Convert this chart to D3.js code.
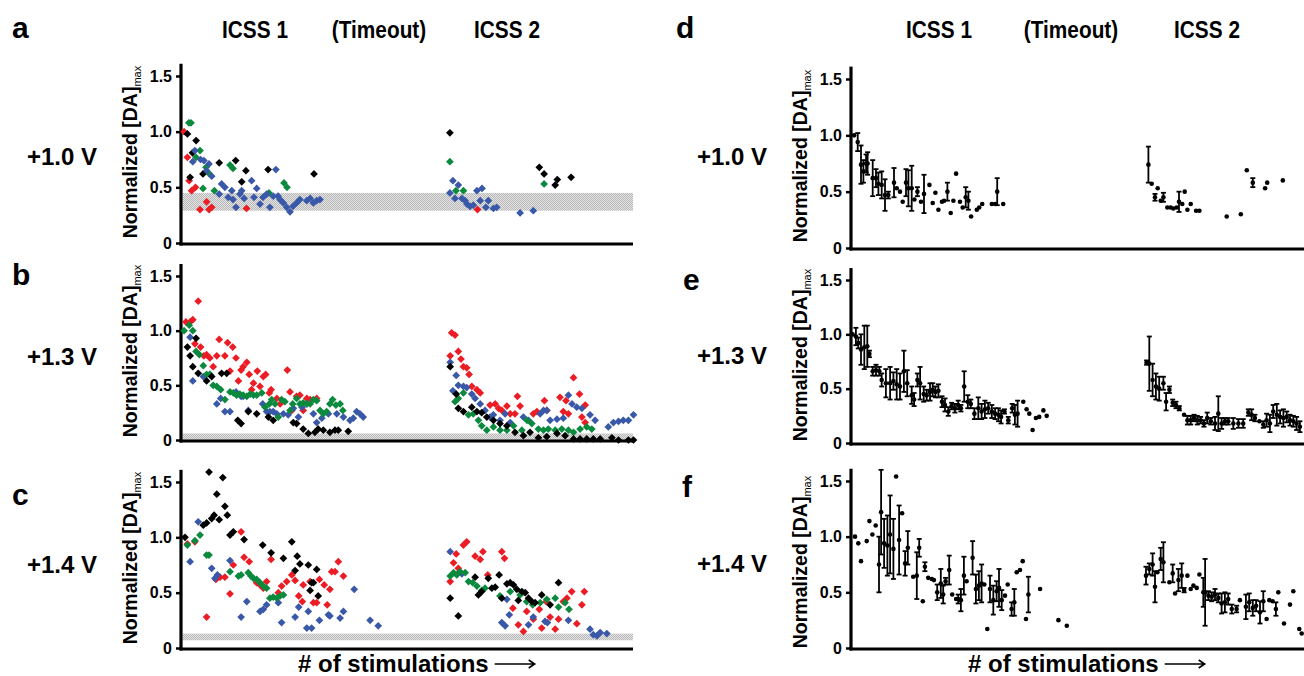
<!DOCTYPE html>
<html><head><meta charset="utf-8">
<script src="https://cdn.jsdelivr.net/npm/d3@7"></script>
<style>body{margin:0;background:#fff}svg{display:block}</style>
</head><body>
<script>
// ---------------- DATA ----------------
const headers = ["ICSS 1", "(Timeout)", "ICSS 2"];
const voltages = ["+1.0 V", "+1.3 V", "+1.4 V"];
const panelLetters = ["a", "b", "c", "d", "e", "f"];
const yTicks = [0, 0.5, 1.0, 1.5];
const yTickLabels = ["0", "0.5", "1.0", "1.5"];
const xLabel = "# of stimulations";
const bands = [[0.29, 0.45], [0, 0.06], [0.07, 0.13]];

// panel a : [stimulation #, normalized DA]
const aRed = [[0.7,1.0],[1.8,0.77],[2.4,0.56],[3.2,0.47],[4.5,0.50],[8.2,0.37],[6,0.30],[9,0.30],[9.9,0.32],[21.5,0.31],[98.5,0.30]];
const aGreen = [[2.3,1.08],[3,1.08],[4.7,0.77],[6,0.83],[7,0.49],[8,0.68],[8.8,0.63],[10.8,0.47],[16,0.70],[17,0.67],[29,0.45],[34,0.54],[35,0.50],[89.3,0.73],[91.3,0.47],[93.8,0.47],[120.7,0.53]];
const aBlack = [[1.8,0.98],[2.7,0.59],[3.5,0.81],[4.7,0.92],[7,0.62],[12.4,0.72],[17.9,0.74],[19.9,0.55],[21.3,0.65],[28.7,0.66],[44,0.62],[89.3,0.99],[119.1,0.68],[120.7,0.62],[124.4,0.52],[125.1,0.57],[129.7,0.59]];
const aBlue = [[4.3,0.83],[3.6,0.73],[6.2,0.75],[7.3,0.74],[9,0.71],[8.2,0.65],[9.9,0.60],[12.4,0.44],[13.2,0.53],[14.3,0.50],[15.4,0.41],[16.6,0.47],[17,0.39],[18,0.32],[19.3,0.44],[19.9,0.47],[20.7,0.40],[23.2,0.56],[24,0.41],[24.9,0.49],[26,0.35],[27,0.41],[28.2,0.44],[29.3,0.32],[30.4,0.42],[31.3,0.66],[32,0.42],[32.7,0.39],[33.8,0.36],[34.9,0.32],[36,0.28],[37,0.33],[38.2,0.36],[39.3,0.39],[41.6,0.38],[42.7,0.40],[43.8,0.36],[44.9,0.38],[46,0.39],
 [90.3,0.56],[92.1,0.52],[89.3,0.45],[91,0.40],[93.3,0.40],[94.4,0.38],[95,0.35],[96,0.33],[97.1,0.34],[98.3,0.47],[100,0.49],[99.4,0.38],[101.3,0.32],[102.1,0.38],[103.8,0.31],[104.9,0.32],[112.7,0.27],[117.1,0.29]];

// panel b
const bRed = [[1.3,1.08],[2.7,1.08],[3.6,1.10],[5.4,1.27],[4.3,0.88],[6.2,0.85],[7.3,0.77],[8.2,0.78],[9.3,0.75],[10.4,0.67],[11.6,0.77],[12.4,0.92],[14.3,0.77],[15.2,0.89],[16,0.63],[16.9,0.85],[18,0.75],[18.8,0.54],[19.7,0.64],[20.4,0.67],[21.6,0.71],[22.4,0.60],[23.2,0.46],[23.8,0.52],[25.1,0.63],[26,0.49],[27.1,0.58],[27.9,0.60],[29.1,0.43],[29.7,0.46],[31.6,0.38],[32.7,0.33],[35.1,0.64],[36,0.44],[36.6,0.27],[38.2,0.40],[39.3,0.41],[40.4,0.27],[41.6,0.38],[42.7,0.37],[44.9,0.38],
 [89.9,0.98],[91,0.96],[89.4,0.77],[92.1,0.81],[93,0.74],[93.8,0.67],[94.9,0.66],[95.7,0.60],[96.6,0.49],[98.3,0.46],[99.4,0.43],[102.7,0.32],[104.4,0.33],[105.5,0.29],[106.6,0.27],[108.3,0.31],[109.4,0.24],[111,0.24],[111.8,0.40],[112.7,0.31],[117.1,0.24],[118.3,0.26],[120.8,0.36],[121.6,0.27],[126,0.39],[127.1,0.26],[128,0.36],[128.8,0.24],[130.5,0.57],[132.5,0.42],[133.3,0.21],[134.4,0.32],[134.4,0.16]];
const bGreen = [[0.7,1.0],[2.4,1.05],[3.6,1.0],[4.7,0.81],[5.8,0.78],[7.1,0.68],[8.2,0.60],[9.3,0.60],[10.4,0.50],[11.6,0.49],[12.9,0.46],[14.3,0.37],[16,0.44],[17.1,0.43],[18.2,0.41],[19.3,0.42],[20.4,0.41],[21.6,0.40],[22.7,0.42],[23.8,0.41],[24.9,0.41],[26.6,0.43],[27.7,0.30],[29.1,0.33],[29.9,0.37],[31,0.33],[32.1,0.21],[33.2,0.37],[34.3,0.35],[36,0.27],[36.9,0.33],[38.2,0.38],[39.3,0.33],[40.4,0.34],[41.6,0.33],[42.7,0.33],[43.8,0.37],[44.9,0.36],[46,0.27],[47.1,0.24],[48.2,0.26],[49.3,0.33],[50.2,0.37],[51.3,0.32],[52.7,0.33],[53.6,0.27],
 [91,0.35],[92.1,0.38],[93.8,0.43],[95.5,0.23],[97.1,0.24],[98.8,0.18],[99.9,0.13],[101.6,0.09],[103.8,0.12],[106,0.09],[108.3,0.09],[110.5,0.13],[113.3,0.09],[115,0.18],[116.6,0.15],[118.8,0.10],[120.5,0.09],[122.1,0.10],[124.4,0.09],[126.6,0.10],[128.8,0.09],[130.5,0.07],[132.7,0.10],[134.9,0.12],[136.6,0.10]];
const bBlack = [[1.8,0.85],[2.7,0.77],[4.7,0.93],[3.6,0.67],[5.4,0.61],[8.2,0.54],[9.9,0.58],[13.2,0.61],[14.9,0.61],[18.6,0.18],[19.7,0.15],[22.1,0.26],[24.9,0.24],[28.8,0.21],[30.4,0.18],[37.1,0.16],[38.2,0.15],[40.4,0.10],[42.1,0.06],[44.3,0.07],[45.4,0.10],[47.1,0.09],[49.3,0.07],[51,0.09],[52.1,0.09],[55.4,0.08],
 [89.4,0.67],[91.4,0.42],[92.1,0.29],[93.8,0.26],[96.6,0.30],[98.3,0.26],[99.9,0.25],[101.6,0.21],[103.8,0.18],[106,0.15],[108.3,0.13],[111,0.07],[113.8,0.04],[116,0.07],[118.8,0.02],[121.6,0.03],[125,0.06],[127.7,0.04],[130.5,0.01],[132.7,0.01],[134.9,0.01],[137.1,0.01],[139.4,0.01],[143.3,0.02],[145.5,0],[148.8,0],[150.5,0]];
const bBlue = [[2.7,0.94],[3.6,0.54],[7.1,0.58],[9.3,0.60],[11.6,0.33],[12.9,0.38],[14.3,0.26],[16,0.26],[18,0.44],[19.7,0.40],[20.4,0.40],[22.1,0.27],[26.9,0.33],[28.2,0.26],[29.3,0.26],[30.4,0.26],[31.6,0.24],[33.8,0.24],[35.4,0.23],[37.1,0.29],[38.8,0.21],[40,0.30],[41.6,0.33],[43.8,0.24],[44.9,0.16],[46.6,0.20],[48.8,0.24],[51.6,0.24],[53.8,0.21],[56,0.18],[57.1,0.20],[58.2,0.26],[59.3,0.24],[60.4,0.21],
 [89.4,0.71],[91.4,0.59],[92.1,0.50],[90.3,0.45],[93.8,0.49],[94.9,0.48],[96.6,0.42],[97.7,0.38],[99.4,0.33],[101,0.27],[102.7,0.21],[103.8,0.23],[106,0.18],[107.7,0.24],[109.4,0.16],[113.8,0.21],[115.5,0.18],[119.4,0.24],[120.5,0.27],[121.6,0.27],[122.7,0.18],[125,0.19],[127.1,0.20],[128.8,0.41],[130,0.33],[131.6,0.30],[133.3,0.29],[136,0.23],[137.7,0.18],[142.1,0.12],[143.8,0.16],[145.5,0.17],[147.1,0.18],[148.8,0.18],[150.5,0.23]];

// panel c
const cRed = [[1.8,0.94],[4.3,0.96],[8.2,0.28],[11.3,0.62],[12.7,0.64],[14.3,0.64],[16,0.49],[17.1,0.75],[19.7,1.05],[20.7,0.82],[22.4,0.78],[24.9,0.59],[26,0.57],[27.1,0.54],[28.2,0.60],[29.7,0.80],[32.1,0.50],[33.2,0.56],[34.9,0.60],[36.6,0.66],[37.7,0.61],[38.9,0.47],[40.1,0.42],[40.4,0.57],[42.7,0.60],[43.8,0.41],[44.9,0.41],[45.8,0.62],[47.4,0.57],[48.4,0.39],[49.3,0.53],[49.9,0.69],[51,0.69],[52.1,0.78],[53.8,0.65],
 [91.4,0.85],[93.8,0.93],[94.9,0.96],[90.5,0.77],[89.4,0.60],[92.1,0.72],[97.7,0.83],[99.4,0.80],[100.3,0.87],[101.9,0.66],[106.6,0.87],[107.5,0.81],[110.3,0.36],[112.1,0.21],[113.8,0.15],[114.9,0.33],[117.1,0.26],[119.1,0.35],[119.9,0.18],[121.4,0.42],[122.7,0.28],[124.4,0.17],[125.5,0.26],[127.1,0.42],[128.3,0.45],[129.9,0.51],[131.6,0.22],[133.3,0.39],[134.1,0.51]];
const cGreen = [[1.8,0.93],[4.3,0.97],[6,1.02],[8.2,0.84],[9,0.84],[16,0.69],[18.8,0.65],[19.7,0.66],[22.1,0.68],[23,0.65],[23.8,0.63],[24.9,0.62],[26,0.59],[27.1,0.56],[28.2,0.54],[29.3,0.45],[30.4,0.46],[31.6,0.45],[32.7,0.47],[33.8,0.48],
 [89.4,0.65],[90.5,0.68],[91.6,0.66],[92.7,0.69],[94.4,0.68],[95.5,0.60],[96.9,0.59],[98.3,0.56],[99.9,0.52],[101,0.54],[106,0.47],[109.4,0.51],[112.7,0.48],[114.9,0.42],[116.9,0.39],[119.4,0.41],[121.6,0.44],[124.4,0.45],[125.5,0.37],[127.7,0.41],[129,0.35]];
const cBlack = [[1,1.0],[7.1,1.11],[8.2,1.13],[9,1.59],[9.9,1.17],[10.7,1.2],[11.6,1.39],[12.4,1.16],[13.6,1.54],[14.3,1.28],[15.1,1.2],[16,1.02],[17.1,1.05],[20.7,0.98],[26.9,0.93],[29.7,0.86],[33.8,0.81],[36.6,0.96],[37.7,0.70],[38.4,0.83],[39.3,0.76],[42.1,0.75],[43.2,0.59],[43.8,0.59],[42.7,0.52],[44.9,0.71],[45.4,0.47],
 [89.4,0.45],[92.1,0.29],[97.7,0.64],[98.8,0.48],[99.9,0.51],[102.1,0.63],[103.3,0.54],[104.4,0.55],[105.7,0.66],[106.6,0.45],[108.3,0.58],[109.4,0.59],[110.5,0.57],[111.6,0.53],[112.1,0.43],[113.3,0.51],[114.4,0.50],[115.5,0.45],[116.6,0.42],[117.7,0.41],[119.9,0.48],[122.7,0.39],[125.5,0.59]];
const cBlue = [[2.7,0.78],[5.4,1.14],[9.9,0.72],[11,0.63],[11.8,0.66],[16,0.79],[19.7,0.28],[21.6,0.42],[26,0.33],[27.1,0.35],[28.2,0.39],[32.1,0.41],[33.2,0.23],[37.7,0.28],[38.9,0.37],[42.1,0.33],[41.6,0.18],[43.2,0.18],[45.8,0.25],[48.8,0.30],[49.3,0.29],[52.7,0.27],[53.8,0.33],[57.4,0.53],[62.7,0.25],[65.4,0.20],
 [89.4,0.87],[93.3,0.67],[106.6,0.23],[107.7,0.20],[109.1,0.30],[108.3,0.44],[115.5,0.21],[117.1,0.28],[121,0.24],[121.8,0.23],[128.8,0.25],[136,0.17],[137.1,0.12],[138.3,0.11],[139.4,0.14],[141.6,0.13]];

// panels d-f : [stimulation #, mean, error]
const dMean = [[0.7,1.0,0],[1.9,0.94,0.08],[3,0.74,0.17],[3.8,0.68,0.1],[4.7,0.75,0.08],[5.2,0.75,0.1],[6.9,0.62,0.16],[8,0.62,0.08],[8.8,0.57,0.1],[9.9,0.56,0.12],[11,0.47,0.14],[12.1,0.47,0.03],[14,0.58,0.13],[14.9,0.53,0],[16,0.50,0],[16.9,0.41,0],[18,0.58,0.12],[18.8,0.53,0.16],[19.9,0.53,0.2],[20.8,0.43,0],[21.8,0.50,0.04],[23,0.41,0],[24,0.48,0.17],[25.8,0.56,0],[26.9,0.40,0],[27.8,0.49,0],[28.8,0.34,0],[30,0.41,0],[30.7,0.42,0],[31.8,0.50,0.08],[32.9,0.31,0],[33.8,0.42,0],[34.7,0.66,0],[36,0.41,0],[36.9,0.36,0],[37.9,0.45,0.09],[38.8,0.42,0.08],[39.7,0.28,0],[41.6,0.34,0],[42.4,0.36,0],[43.4,0.39,0],[46.6,0.39,0],[47.7,0.39,0],[48.4,0.50,0.12],[50.4,0.39,0],
 [98.8,0.74,0.16],[99.9,0.57,0],[101,0.45,0.03],[101.9,0.53,0],[102.9,0.42,0],[103.8,0.45,0.04],[105.1,0.36,0],[106.2,0.36,0],[107.1,0.35,0],[108.2,0.36,0],[109,0.41,0.09],[110.1,0.39,0],[110.9,0.50,0],[111.8,0.34,0],[112.9,0.39,0],[114.7,0.33,0],[115.8,0.33,0],[124.9,0.28,0],[129.6,0.30,0],[131.6,0.69,0],[133.6,0.58,0.04],[137.7,0.53,0],[138.4,0.58,0],[143.6,0.60,0]];
const eMean = [[0.2,1.0,0],[1.3,0.98,0.08],[2.1,0.92,0.05],[3,0.86,0.14],[4.1,0.88,0.2],[5.1,0.89,0.19],[5.8,0.82,0.03],[6.9,0.66,0.04],[8,0.67,0.05],[9.1,0.66,0.04],[9.9,0.58,0.06],[11.3,0.55,0.13],[12.7,0.55,0.15],[13.8,0.57,0.08],[14.9,0.54,0.14],[16,0.52,0.12],[17.3,0.66,0.19],[18.4,0.55,0.12],[19.9,0.44,0.08],[20.7,0.40,0.06],[21.8,0.58,0.06],[22.7,0.55,0.15],[23.9,0.45,0.07],[24.9,0.44,0.05],[26,0.47,0.08],[26.9,0.49,0.06],[27.8,0.47,0.05],[28.8,0.48,0.06],[30,0.38,0.05],[31,0.35,0.06],[32.1,0.29,0.04],[33.2,0.34,0.03],[34.3,0.32,0.04],[35.4,0.35,0.04],[36.3,0.32,0.03],[37.4,0.52,0.14],[38.6,0.38,0.06],[39.6,0.36,0.04],[40.8,0.27,0.05],[42.1,0.32,0.1],[43.2,0.29,0.07],[44.3,0.31,0.08],[45.4,0.32,0.05],[46.6,0.29,0.06],[47.7,0.27,0.05],[48.8,0.26,0.06],[49.7,0.24,0.06],[50.8,0.29,0.02],[52.1,0.21,0.03],[53.4,0.32,0.04],[54.3,0.26,0.09],[55.2,0.27,0.12],[57.1,0.38,0],[58.2,0.31,0],[59.1,0.27,0],[60.2,0.12,0],[61.3,0.23,0],[62.4,0.24,0],[63.8,0.30,0],[64.9,0.25,0],
 [98.2,0.74,0.02],[99.1,0.73,0.25],[100.2,0.58,0.15],[101.3,0.52,0.12],[102.4,0.50,0.11],[103.8,0.55,0.06],[104.7,0.38,0.08],[105.8,0.49,0.03],[106.9,0.37,0.03],[108,0.35,0.03],[109.1,0.32,0.02],[110.7,0.26,0],[111.8,0.21,0.04],[112.9,0.21,0.04],[114,0.23,0.03],[115.1,0.21,0.04],[116.2,0.21,0.03],[117.3,0.18,0.03],[118.4,0.23,0.05],[119.6,0.2,0.03],[121,0.18,0.06],[122.1,0.27,0.16],[123.2,0.18,0.05],[124.3,0.2,0.03],[125.4,0.2,0.03],[127.1,0.18,0.05],[128.8,0.18,0.04],[130.4,0.18,0.04],[132.1,0.28,0.03],[133.2,0.26,0.05],[134.3,0.23,0.03],[135.8,0.2,0],[137.1,0.17,0.03],[138.2,0.21,0.06],[139.3,0.18,0.08],[140.4,0.29,0.06],[141.6,0.26,0.1],[142.7,0.24,0.06],[143.8,0.23,0.08],[144.9,0.24,0.05],[146,0.21,0.05],[147.1,0.2,0.05],[148.2,0.18,0.06],[149.3,0.15,0.05]];
const fMean = [[1,1.0,0],[2.1,0.94,0],[3,0.78,0],[4.9,0.96,0],[5.8,1.14,0],[6.8,1.02,0],[7.9,1.1,0],[9,0.75,0.25],[9.7,1.22,0.38],[10.7,0.94,0.22],[11.8,0.92,0.27],[12.7,1.02,0.35],[13.8,0.89,0.27],[14.7,1.54,0],[15.7,0.97,0.31],[16.7,1.21,0],[17.7,0.76,0.11],[18.6,0.90,0.15],[20.4,0.64,0],[21.6,0.65,0.21],[22.4,0.90,0.08],[23.6,0.42,0],[24.3,0.73,0.04],[25.4,0.63,0],[26.6,0.62,0],[27.3,0.61,0],[28.4,0.50,0.07],[29.6,0.58,0.13],[30.4,0.48,0.08],[31.2,0.60,0.03],[32.4,0.70,0.13],[33.4,0.48,0],[34.7,0.44,0],[35.4,0.44,0.04],[36.3,0.43,0.1],[37.3,0.65,0.17],[38.2,0.60,0],[40.2,0.81,0.15],[41.3,0.53,0.13],[42.3,0.56,0.13],[43.2,0.58,0.17],[44.1,0.57,0],[45.1,0.17,0],[46,0.53,0.12],[47.1,0.43,0.13],[48.2,0.51,0.09],[49,0.54,0.17],[49.9,0.43,0.09],[51,0.47,0],[51.9,0.57,0],[53.2,0.35,0.06],[54.1,0.41,0.12],[54.9,0.68,0],[56,0.70,0],[56.9,0.78,0],[58,0.26,0],[58.8,0.48,0.16],[62.7,0.53,0],[68.8,0.25,0],[71.6,0.20,0],
 [98,0.65,0.08],[99.1,0.71,0.05],[100.2,0.75,0.1],[101,0.55,0.14],[101.8,0.68,0],[102.9,0.80,0.1],[103.8,0.77,0.18],[105.8,0.59,0],[106.9,0.67,0.08],[107.7,0.49,0],[108.8,0.61,0.1],[109.9,0.65,0.11],[110.7,0.52,0.02],[111.8,0.65,0],[112.9,0.53,0],[113.8,0.56,0],[114.9,0.54,0],[115.8,0.66,0],[117.1,0.50,0.13],[117.7,0.50,0.3],[118.8,0.47,0.04],[119.9,0.46,0.04],[121,0.48,0.05],[122.1,0.45,0.04],[123.2,0.40,0.09],[124.3,0.41,0.09],[125.4,0.44,0.05],[126.6,0.35,0.04],[128.2,0.35,0.03],[129.3,0.43,0],[131.3,0.37,0.11],[132.4,0.41,0.08],[133.6,0.36,0.07],[134.7,0.38,0.05],[136,0.32,0.1],[137.1,0.42,0.09],[138.2,0.26,0],[139.1,0.43,0],[140.2,0.42,0],[141.3,0.35,0.06],[142.1,0.50,0],[144,0.22,0],[146,0.39,0],[147.1,0.51,0],[149.1,0.17,0],[149.9,0.13,0]];

// ---------------- DRAW ----------------
const W = 1304, H = 676;
const FONT = "'Liberation Sans', Arial, Helvetica, sans-serif";
const COLORS = {red: "#ec1c24", green: "#0b8a3e", blue: "#3a58a8", black: "#000000"};

const svg = d3.select("body").append("svg").attr("width", W).attr("height", H)
  .style("font-family", FONT);

const defs = svg.append("defs");
const pat = defs.append("pattern").attr("id", "hatch").attr("patternUnits", "userSpaceOnUse")
  .attr("width", 2).attr("height", 2);
pat.append("rect").attr("width", 2).attr("height", 2).attr("fill", "#e6e6e6");
pat.append("rect").attr("width", 1).attr("height", 1).attr("fill", "#b6b6b6");
pat.append("rect").attr("x", 1).attr("y", 1).attr("width", 1).attr("height", 1).attr("fill", "#b6b6b6");

const cols = [{x0: 182, x1: 635, axisEnd: 633}, {x0: 852, x1: 1305, axisEnd: 1304}];
const rows = [
  [{zero: 243, t15: 76}, {zero: 440, t15: 276}, {zero: 648, t15: 482}],
  [{zero: 248, t15: 79}, {zero: 443, t15: 280}, {zero: 648, t15: 481}]
];

function makePanel(ci, ri) {
  const c = cols[ci], r = rows[ci][ri];
  const x = d3.scaleLinear().domain([0, 151]).range([c.x0, c.x1]);
  const y = d3.scaleLinear().domain([0, 1.5]).range([r.zero, r.t15]);
  const g = svg.append("g");
  return {x, y, g, c};
}

function drawAxes(p, yTitleX, yTitleY) {
  const {x, y, g, c} = p;
  const ax = g.append("g").attr("transform", `translate(${c.x0 - 1},0)`)
    .call(d3.axisLeft(y).tickValues(yTicks).tickFormat((d, i) => yTickLabels[i]).tickSize(5).tickPadding(4));
  ax.select(".domain").remove();
  ax.selectAll(".tick line").attr("stroke", "#000").attr("stroke-width", 2.5);
  ax.selectAll(".tick text").attr("font-size", 16).attr("font-weight", "bold").attr("font-family", FONT).attr("fill", "#000");
  g.append("line").attr("x1", c.x0 - 1).attr("x2", c.x0 - 1).attr("y1", y(1.61)).attr("y2", y(0) + 2.5)
    .attr("stroke", "#000").attr("stroke-width", 3.2);
  g.append("line").attr("x1", c.x0 - 2.5).attr("x2", c.axisEnd).attr("y1", y(0) + 1).attr("y2", y(0) + 1)
    .attr("stroke", "#000").attr("stroke-width", 3.2);
  const t = g.append("text").attr("transform", `translate(${yTitleX},${yTitleY}) rotate(-90)`)
    .attr("text-anchor", "middle").attr("font-size", 19.5).attr("font-weight", "bold").attr("fill", "#000");
  t.append("tspan").text("Normalized [DA]");
  t.append("tspan").attr("font-size", 11).attr("font-weight", "normal").attr("dy", 4).text("max");
}

function drawBand(p, band) {
  const {x, y, g, c} = p;
  g.append("rect").attr("x", c.x0 + 0.5).attr("width", c.axisEnd - c.x0 - 0.5)
    .attr("y", y(band[1])).attr("height", y(band[0]) - y(band[1]))
    .attr("fill", "url(#hatch)");
}

function scatter(p, data, color) {
  const {x, y, g} = p;
  const sym = d3.symbol(d3.symbolSquare, 30);
  g.append("g").selectAll("path").data(data).join("path")
    .attr("d", sym)
    .attr("transform", d => `translate(${x(d[0])},${y(d[1])}) rotate(45)`)
    .attr("fill", color);
}

function errorPlot(p, data) {
  const {x, y, g} = p;
  const eg = g.append("g").attr("stroke", "#000").attr("stroke-width", 1.8);
  const withErr = data.filter(d => d[2] > 0);
  eg.selectAll("line.v").data(withErr).join("line").attr("class", "v")
    .attr("x1", d => x(d[0])).attr("x2", d => x(d[0]))
    .attr("y1", d => y(d[1] - d[2])).attr("y2", d => y(d[1] + d[2]));
  eg.selectAll("line.t").data(withErr).join("line").attr("class", "t")
    .attr("x1", d => x(d[0]) - 2.5).attr("x2", d => x(d[0]) + 2.5)
    .attr("y1", d => y(d[1] + d[2])).attr("y2", d => y(d[1] + d[2]));
  eg.selectAll("line.b").data(withErr).join("line").attr("class", "b")
    .attr("x1", d => x(d[0]) - 2.5).attr("x2", d => x(d[0]) + 2.5)
    .attr("y1", d => y(d[1] - d[2])).attr("y2", d => y(d[1] - d[2]));
  g.append("g").selectAll("circle").data(data).join("circle")
    .attr("cx", d => x(d[0])).attr("cy", d => y(d[1])).attr("r", 2.3).attr("fill", "#000");
}

const scatterSets = [
  [aRed, aGreen, aBlack, aBlue],
  [bRed, bBlue, bGreen, bBlack],
  [cRed, cBlue, cGreen, cBlack]
];
const scatterColors = [
  ["red", "green", "black", "blue"],
  ["red", "blue", "green", "black"],
  ["red", "blue", "green", "black"]
];
const titleCY = [[152, 351, 558], [156, 355, 562]];
[0, 1, 2].forEach(ri => {
  const p = makePanel(0, ri);
  drawBand(p, bands[ri]);
  drawAxes(p, 137, titleCY[0][ri]);
  scatterSets[ri].forEach((ds, k) => scatter(p, ds, COLORS[scatterColors[ri][k]]));
});
[dMean, eMean, fMean].forEach((ds, ri) => {
  const p = makePanel(1, ri);
  drawAxes(p, 807, titleCY[1][ri]);
  errorPlot(p, ds);
});

// headers (condensed bold)
const headerX = [[255, 379, 507], [939, 1071, 1207]];
headerX.forEach(hx => hx.forEach((xx, i) => {
  svg.append("text").attr("transform", `translate(${xx},38) scale(0.85,1)`).attr("text-anchor", "middle")
    .attr("font-size", 24.5).attr("font-weight", "bold").text(headers[i]);
}));

// panel letters
const letterPos = [[12, 38], [12, 285], [12, 505], [676, 38], [683, 290], [682, 497]];
panelLetters.forEach((l, i) => {
  svg.append("text").attr("x", letterPos[i][0]).attr("y", letterPos[i][1])
    .attr("font-size", 30).attr("font-weight", "bold").text(l);
});

// voltage labels
const voltPos = [[[27, 165], [27, 365], [27, 573]], [[697, 165], [697, 364], [697, 572]]];
voltPos.forEach(col => col.forEach((pos, i) => {
  svg.append("text").attr("x", pos[0]).attr("y", pos[1]).attr("font-size", 24)
    .attr("font-weight", "bold").text(voltages[i]);
}));

// x labels with arrow
[[298, 672], [968, 672]].forEach(pos => {
  const t = svg.append("text").attr("x", pos[0]).attr("y", pos[1]).attr("font-size", 24)
    .attr("font-weight", "bold").text(xLabel);
  const len = t.node().getComputedTextLength();
  const ax0 = pos[0] + len + 6, ax1 = ax0 + 40, ay = pos[1] - 8;
  svg.append("path").attr("d", `M${ax0},${ay}H${ax1}M${ax1 - 6},${ay - 4}L${ax1},${ay}L${ax1 - 6},${ay + 4}`)
    .attr("fill", "none").attr("stroke", "#000").attr("stroke-width", 1.6);
});
</script>
</body></html>
